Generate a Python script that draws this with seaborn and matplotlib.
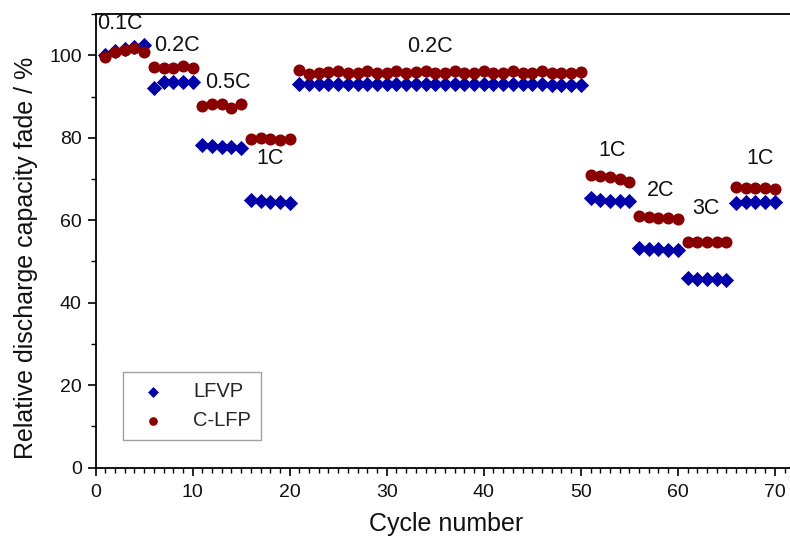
import numpy as np
import pandas as pd
import matplotlib
matplotlib.use("Agg")
import matplotlib.pyplot as plt
import seaborn as sns
from matplotlib.ticker import MultipleLocator

cycles = list(range(1, 71))
lfvp = [100.0, 101.0, 101.5, 102.0, 102.6,
        92.0, 93.5, 93.6, 93.6, 93.5,
        78.2, 78.0, 77.8, 77.7, 77.6,
        64.8, 64.6, 64.5, 64.3, 64.2,
        93.0, 93.0, 93.0, 93.0, 93.0, 93.0, 93.0, 93.0, 93.0, 93.0,
        93.0, 93.0, 93.0, 93.0, 93.0, 93.0, 93.0, 93.0, 93.0, 93.0,
        93.0, 93.0, 93.0, 93.0, 93.0, 93.0, 92.9, 92.9, 92.9, 92.9,
        65.5, 64.8, 64.7, 64.7, 64.6,
        53.3, 53.0, 52.9, 52.8, 52.7,
        46.0, 45.8, 45.7, 45.7, 45.5,
        64.1, 64.3, 64.3, 64.3, 64.3]
clfp = [99.7, 100.9, 101.4, 101.7, 100.9,
        97.2, 97.0, 97.0, 97.3, 97.0,
        87.6, 88.1, 88.1, 87.2, 88.1,
        79.6, 80.0, 79.8, 79.4, 79.7,
        96.5, 95.5, 95.8, 95.9, 96.3, 95.8, 95.7, 96.3, 95.8, 95.8,
        96.3, 95.8, 95.9, 96.3, 95.8, 95.8, 96.3, 95.7, 95.8, 96.3,
        95.8, 95.7, 96.3, 95.7, 95.8, 96.3, 95.8, 95.8, 95.8, 95.9,
        70.9, 70.7, 70.5, 70.0, 69.3,
        61.0, 60.7, 60.6, 60.5, 60.3,
        54.6, 54.7, 54.6, 54.6, 54.8,
        68.0, 67.9, 67.8, 67.7, 67.6]

rate_labels = ["0.1C", "0.2C", "0.5C", "1C", "0.2C", "1C", "2C", "3C", "1C"]
rate_x = [2.5, 8.4, 13.6, 18.0, 34.5, 53.2, 58.2, 62.9, 68.5]
rate_y = [107.8, 102.4, 93.3, 74.9, 102.2, 76.8, 67.1, 62.8, 74.9]

sns.set_theme(style="ticks")
plt.rcParams["font.family"] = ["Liberation Sans", "DejaVu Sans"]

fig = plt.figure(figsize=(7.9, 5.4), dpi=100)
ax = fig.add_axes([0.121, 0.134, 0.882, 0.840])

sns.scatterplot(x=cycles, y=lfvp, marker="D", color="#0000A8", s=60,
                linewidth=0, ax=ax, zorder=3, label="LFVP")
sns.scatterplot(x=cycles, y=clfp, marker="o", color="#880000", s=75,
                linewidth=0, ax=ax, zorder=4, label="C-LFP")

for lab, x, y in zip(rate_labels, rate_x, rate_y):
    ax.text(x, y, lab, ha="center", va="center", fontsize=15.5, color="#111111")

ax.set_xlim(0, 71.8)
ax.set_ylim(0, 110)
ax.xaxis.set_major_locator(MultipleLocator(10))
ax.xaxis.set_minor_locator(MultipleLocator(1))
ax.yaxis.set_major_locator(MultipleLocator(20))
ax.yaxis.set_minor_locator(MultipleLocator(10))
ax.tick_params(which="major", direction="out", length=6, width=1.2, labelsize=14,
               color="black", labelcolor="#111111", pad=4)
ax.tick_params(which="minor", direction="out", length=3.5, width=1.0, color="black")
ax.tick_params(axis="x", which="major", pad=6)
ax.tick_params(which="both", right=True, top=False)
for sp in ax.spines.values():
    sp.set_linewidth(1.3)
    sp.set_color("black")
    sp.set_visible(True)

ax.set_xlabel("Cycle number", fontsize=18, color="#111111")
ax.set_ylabel("Relative discharge capacity fade / %", fontsize=18, color="#111111")
ax.xaxis.set_label_coords(0.503, -0.098)
ax.yaxis.set_label_coords(-0.082, 0.462)

leg = ax.legend(loc="lower left", bbox_to_anchor=(0.039, 0.061), borderaxespad=0,
                fontsize=14.5, frameon=True, fancybox=False, edgecolor="#888888",
                handletextpad=1.0, borderpad=0.5, labelspacing=0.5, markerscale=0.72)
leg.get_frame().set_linewidth(1.0)

fig.savefig("out.png", dpi=100)
